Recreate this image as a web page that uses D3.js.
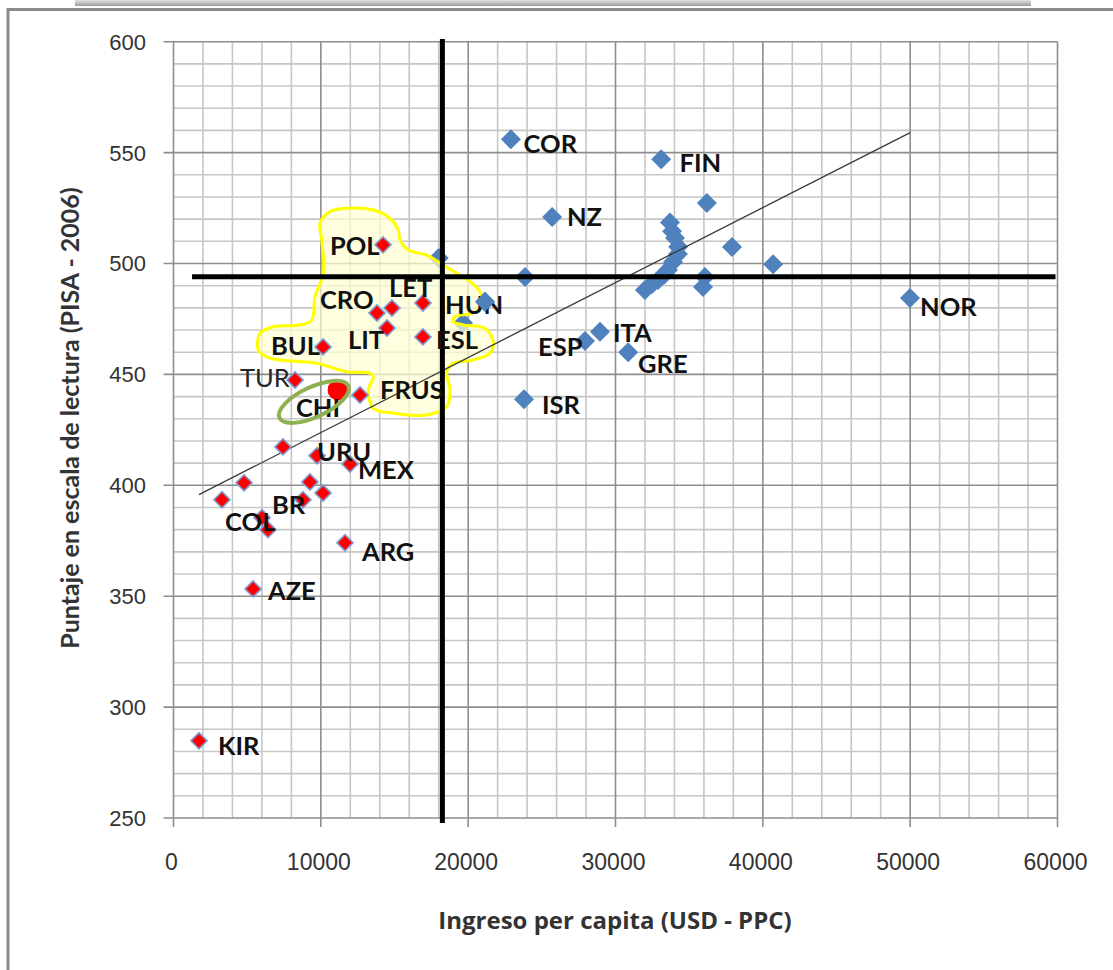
<!DOCTYPE html>
<html><head><meta charset="utf-8">
<script src="https://cdn.jsdelivr.net/npm/d3@7"></script>
<style>body{margin:0;background:#fff;} svg{display:block;}</style>
</head><body>
<svg id="c" width="1113" height="970"></svg>
<script>
// ---------- data ----------
const xTicks = [0, 10000, 20000, 30000, 40000, 50000, 60000];
const yTicks = [250, 300, 350, 400, 450, 500, 550, 600];

// OECD countries (blue)
const oecdX = [22900, 33100, 25700, 36200, 33700, 33840, 34040, 34250, 37910, 40700, 49990,
  23860, 18000, 21140, 19650, 27930, 28950, 30860, 23790,
  32000, 32480, 32890, 33300, 33560, 33900, 34240, 36070, 35940];
const oecdY = [556, 547, 521, 527.3, 518.5, 514.5, 511.5, 507.5, 507.4, 499.7, 484.4,
  493.9, 502.5, 482.7, 473.2, 465.1, 469.2, 460.0, 438.8,
  488.1, 490.8, 492.6, 494.9, 497.1, 500.7, 504.3, 493.9, 489.4];
const oecdOnTop = [13]; // marker that sits over its neighbouring label

// partner countries (red)
const partnerX = [14220, 13810, 14830, 16930, 14490, 16930, 10150, 8250, 11170, 12660,
  7430, 9740, 11980, 4790, 3290, 9260, 10150, 8790, 6010, 6410, 11640, 5400, 1730];
const partnerY = [508.4, 477.7, 479.9, 482.2, 470.9, 466.9, 462.4, 447.5, 443.0, 440.7,
  417.3, 413.3, 409.6, 401.1, 393.5, 401.5, 396.5, 393.5, 385.4, 380.0, 374.1, 353.3, 284.8];

// highlighted country (Chile)
const highlightX = [11170];
const highlightY = [443.0];

// country labels (anchored at their left edge / vertical centre, in data units)
const labelNames = ["COR","FIN","NZ","NOR","ITA","ESP","GRE","ISR","POL","LET","CRO","HUN",
  "LIT","ESL","BUL","TUR","FRUS","CHI","URU","MEX","BR","COL","ARG","AZE","KIR"];
const labelX = [23760, 34350, 26700, 50670, 29830, 24740, 31530, 25010, 10620, 14630, 9940, 18430,
  11840, 17820, 6620, 4510, 14020, 8310, 9740, 12520, 6690, 3500, 12790, 6410, 3020];
const labelY = [553.9, 545.3, 521.0, 480.4, 468.7, 462.4, 454.7, 436.2, 507.9, 489.0, 483.6, 481.3,
  465.5, 465.5, 462.8, 448.4, 443.0, 434.9, 415.0, 406.9, 391.1, 383.5, 370.0, 352.4, 282.5];

// linear trend
const trendX = [1730, 50000];
const trendY = [395.8, 559.0];

// reference lines (average score / income)
const avgScore = 494;
const avgScoreSpan = [1260, 60000];
const avgIncome = 18250;
const avgIncomeSpan = [247.8, 601.2];

// hand-drawn yellow region
const blobX = [10622, 11756, 13561, 14695, 15258, 15374, 15937, 17186, 18313, 19222, 20125, 20804,
  20919, 20240, 19107, 18991, 19670, 21143, 21706, 21482, 20349, 18991, 18543, 18767, 18543, 17186,
  14919, 13561, 13222, 13561, 13337, 11756, 9720, 6550, 5756, 5871, 6774, 8586, 9380, 9604, 10168,
  10059, 9944];
const blobY = [523.4, 524.9, 524.1, 520.4, 515.1, 510.6, 506.1, 503.8, 499.3, 495.6, 491.8, 487.3,
  480.5, 477.5, 476.0, 473.8, 472.3, 470.8, 464.7, 459.5, 456.5, 455.0, 451.2, 443.0, 435.4, 431.7,
  432.5, 434.7, 443.0, 449.0, 450.5, 451.2, 455.0, 457.3, 461.0, 468.5, 471.5, 472.3, 474.5, 485.0,
  495.6, 510.6, 518.1];

// green ellipse around Chile
const ellipseX = [9530];
const ellipseY = [437.6];

// ---------- drawing ----------
const svg = d3.select("#c");
const x = d3.scaleLinear().domain([0, 60000]).range([173.5, 1057.5]);
const y = d3.scaleLinear().domain([250, 600]).range([818, 41.7]);

// frame + shadow
const defs = svg.append("defs");
const g1 = defs.append("linearGradient").attr("id","sh").attr("x1",0).attr("x2",0).attr("y1",0).attr("y2",1);
g1.append("stop").attr("offset","0%").attr("stop-color","#e4e4e4");
g1.append("stop").attr("offset","100%").attr("stop-color","#9a9a9a");
svg.append("rect").attr("x",75).attr("y",0).attr("width",956).attr("height",6).attr("fill","url(#sh)");
svg.append("path").attr("d","M8,970 L8,9.5 L1113,9.5").attr("fill","none")
  .attr("stroke","#8c8c8c").attr("stroke-width",3);

// grid
const grid = svg.append("g");
const minorX = d3.range(0, 60001, 2000).filter(v => v % 10000 !== 0);
const minorY = d3.range(250, 601, 10).filter(v => v % 50 !== 0);
grid.selectAll(".mx").data(minorX).join("line")
  .attr("x1", d => x(d)).attr("x2", d => x(d)).attr("y1", y(600)).attr("y2", y(250))
  .attr("stroke", "#c6c6c6").attr("stroke-width", 1.6);
grid.selectAll(".my").data(minorY).join("line")
  .attr("x1", x(0)).attr("x2", x(60000)).attr("y1", d => y(d)).attr("y2", d => y(d))
  .attr("stroke", "#c6c6c6").attr("stroke-width", 1.6);
grid.selectAll(".Mx").data(xTicks).join("line")
  .attr("x1", d => x(d)).attr("x2", d => x(d)).attr("y1", y(600)).attr("y2", y(250) + 9)
  .attr("stroke", "#8e8e8e").attr("stroke-width", 1.6);
grid.selectAll(".My").data(yTicks).join("line")
  .attr("x1", x(0) - 10).attr("x2", x(60000)).attr("y1", d => y(d)).attr("y2", d => y(d))
  .attr("stroke", "#8e8e8e").attr("stroke-width", 1.6);

// tick labels
svg.append("g").selectAll("text").data(yTicks).join("text")
  .attr("x", 146).attr("y", d => y(d)).attr("dy", "0.36em").attr("text-anchor", "end")
  .attr("font-family", "Liberation Sans, Arial, sans-serif").attr("font-size", 22).attr("fill", "#333")
  .text(d => d);
svg.append("g").selectAll("text").data(xTicks).join("text")
  .attr("x", d => x(d) - 2).attr("y", 862).attr("dy", "0.36em").attr("text-anchor", "middle")
  .attr("font-family", "Liberation Sans, Arial, sans-serif").attr("font-size", 23).attr("fill", "#333")
  .text(d => d);

// axis titles
svg.append("text").attr("x", 615).attr("y", 920).attr("dy", "0.36em").attr("text-anchor", "middle")
  .attr("font-family", "Open Sans, sans-serif").attr("font-weight", "bold").attr("font-size", 24)
  .attr("fill", "#333").text("Ingreso per capita (USD - PPC)");
svg.append("text").attr("transform", "translate(70,418) rotate(-90)").attr("dy", "0.36em")
  .attr("text-anchor", "middle")
  .attr("font-family", "Lato, sans-serif").attr("font-weight", "bold").attr("font-size", 25)
  .attr("fill", "#333").text("Puntaje en escala de lectura (PISA - 2006)");

const labelFont = "Lato, sans-serif";
const labelIdx = d3.range(labelNames.length);
function drawLabels(sel, idx) {
  sel.selectAll("text").data(idx).join("text")
    .attr("x", i => x(labelX[i])).attr("y", i => y(labelY[i])).attr("dy", "0.36em")
    .attr("font-family", labelFont).attr("font-size", 25.5)
    .attr("font-weight", i => labelNames[i] === "TUR" ? "normal" : "bold")
    .attr("fill", i => labelNames[i] === "TUR" ? "#262626" : "#111")
    .text(i => labelNames[i]);
}

// blue markers
const diamondBig = d3.symbol().type(d3.symbolSquare).size(200)();
const diamondSmall = d3.symbol().type(d3.symbolSquare).size(130)();
function drawBlue(sel, idx) {
  sel.selectAll("path").data(idx).join("path")
    .attr("d", diamondBig)
    .attr("transform", i => `translate(${x(oecdX[i])},${y(oecdY[i])}) rotate(45)`)
    .attr("fill", "#4f81bd");
}
drawBlue(svg.append("g"), d3.range(oecdX.length));

// yellow region
const blobPts = d3.range(blobX.length).map(i => [x(blobX[i]), y(blobY[i])]);
svg.append("path").attr("d", d3.line().curve(d3.curveCatmullRomClosed.alpha(0.5))(blobPts))
  .attr("fill", "#ffffd2").attr("fill-opacity", 0.72)
  .attr("stroke", "#ffff00").attr("stroke-width", 3);

// trend line
svg.append("line")
  .attr("x1", x(trendX[0])).attr("y1", y(trendY[0]))
  .attr("x2", x(trendX[1])).attr("y2", y(trendY[1]))
  .attr("stroke", "#3a3a3a").attr("stroke-width", 1.3);

// red markers
svg.append("g").selectAll("path").data(d3.range(partnerX.length)).join("path")
  .attr("d", diamondSmall)
  .attr("transform", i => `translate(${x(partnerX[i])},${y(partnerY[i])}) rotate(45)`)
  .attr("fill", "#ff0000").attr("stroke", "#7f9cd2").attr("stroke-width", 1.6);
svg.append("g").selectAll("circle").data(d3.range(highlightX.length)).join("circle")
  .attr("cx", i => x(highlightX[i])).attr("cy", i => y(highlightY[i])).attr("r", 10.5)
  .attr("fill", "#ff0000");

// thick reference lines
svg.append("line").attr("x1", x(avgScoreSpan[0])).attr("x2", x(avgScoreSpan[1]) - 2)
  .attr("y1", y(avgScore)).attr("y2", y(avgScore)).attr("stroke", "#000").attr("stroke-width", 5);
svg.append("line").attr("x1", x(avgIncome)).attr("x2", x(avgIncome))
  .attr("y1", y(avgIncomeSpan[1])).attr("y2", y(avgIncomeSpan[0])).attr("stroke", "#000").attr("stroke-width", 5);

// labels
drawLabels(svg.append("g"), labelIdx);
// marker drawn over the end of the HUN label
drawBlue(svg.append("g"), oecdOnTop);

// green ellipse
svg.append("g").selectAll("ellipse").data(d3.range(ellipseX.length)).join("ellipse")
  .attr("transform", i => `translate(${x(ellipseX[i])},${y(ellipseY[i])}) rotate(-25)`)
  .attr("rx", 38).attr("ry", 15)
  .attr("fill", "none").attr("stroke", "#8fb052").attr("stroke-width", 4);
</script>
</body></html>
